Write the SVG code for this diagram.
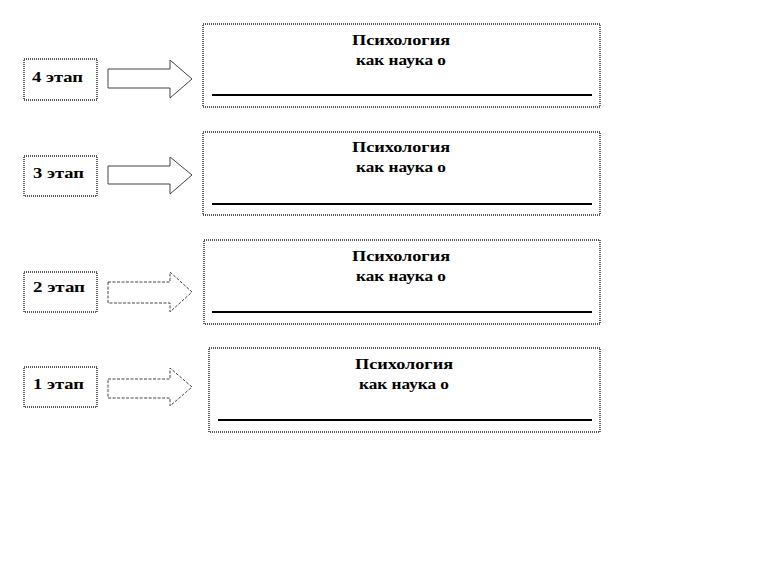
<svg xmlns="http://www.w3.org/2000/svg" width="765" height="570" viewBox="0 0 765 570">
<style>
.box{fill:#fff;stroke:#222;stroke-width:1.4;stroke-dasharray:1,1}
.arrow{fill:#fff;stroke:#444;stroke-width:1}
.dashed{stroke-dasharray:3,1.5}
.rule{stroke:#000;stroke-width:2}
.t{font-family:"Liberation Serif","Times New Roman",serif;font-weight:bold;font-size:14px;fill:#000}
</style>
<rect width="765" height="570" fill="#fff"/>
<g id="connectors">
<polygon class="arrow" points="108,69 170,69 170,60 192,79 170,98 170,88 108,88"/>
<polygon class="arrow" points="108,166 170,166 170,157 192,175 170,194 170,184 108,184"/>
<polygon class="arrow dashed" points="108,282 170,282 170,272 192,292 170,312 170,303 108,303"/>
<polygon class="arrow dashed" points="108,379 170,379 170,368 192,387 170,406 170,398 108,398"/>
</g>
<g id="stage4">
<rect class="box" x="24" y="59" width="73" height="41"/>
<text class="t" x="32" y="82" textLength="51" lengthAdjust="spacingAndGlyphs">4 этап</text>
</g>
<g id="stage3">
<rect class="box" x="24" y="156" width="73" height="40"/>
<text class="t" x="33" y="178" textLength="51" lengthAdjust="spacingAndGlyphs">3 этап</text>
</g>
<g id="stage2">
<rect class="box" x="24" y="272" width="73" height="40"/>
<text class="t" x="33" y="292" textLength="52" lengthAdjust="spacingAndGlyphs">2 этап</text>
</g>
<g id="stage1">
<rect class="box" x="24" y="367" width="73" height="40"/>
<text class="t" x="33" y="389" textLength="51" lengthAdjust="spacingAndGlyphs">1 этап</text>
</g>
<g id="box4">
<rect class="box" x="203" y="24" width="397" height="83"/>
<text class="t" x="352" y="45" textLength="98" lengthAdjust="spacingAndGlyphs">Психология</text>
<text class="t" x="356" y="65" textLength="90" lengthAdjust="spacingAndGlyphs">как наука о</text>
<line class="rule" x1="212" y1="95" x2="592" y2="95"/>
</g>
<g id="box3">
<rect class="box" x="203" y="132" width="397" height="83"/>
<text class="t" x="352" y="152" textLength="98" lengthAdjust="spacingAndGlyphs">Психология</text>
<text class="t" x="356" y="172" textLength="90" lengthAdjust="spacingAndGlyphs">как наука о</text>
<line class="rule" x1="212" y1="204" x2="592" y2="204"/>
</g>
<g id="box2">
<rect class="box" x="204" y="240" width="396" height="84"/>
<text class="t" x="352" y="261" textLength="98" lengthAdjust="spacingAndGlyphs">Психология</text>
<text class="t" x="356" y="281" textLength="90" lengthAdjust="spacingAndGlyphs">как наука о</text>
<line class="rule" x1="212" y1="312" x2="592" y2="312"/>
</g>
<g id="box1">
<rect class="box" x="209" y="348" width="391" height="84"/>
<text class="t" x="355" y="369" textLength="98" lengthAdjust="spacingAndGlyphs">Психология</text>
<text class="t" x="359" y="389" textLength="90" lengthAdjust="spacingAndGlyphs">как наука о</text>
<line class="rule" x1="218" y1="420" x2="592" y2="420"/>
</g>
</svg>
